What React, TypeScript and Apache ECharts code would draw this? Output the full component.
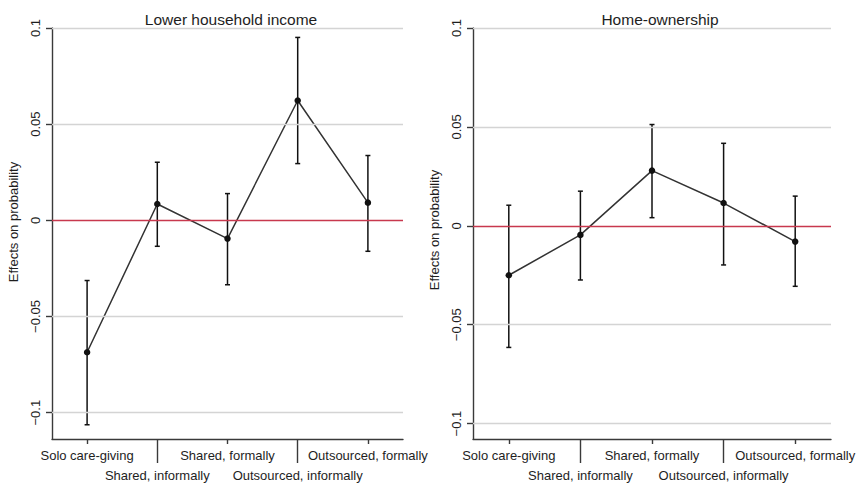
import React, { useEffect, useRef } from "react";
import * as echarts from "echarts";

// Care arrangements on the horizontal axis
const categories = [
  "Solo care-giving",
  "Shared, informally",
  "Shared, formally",
  "Outsourced, informally",
  "Outsourced, formally",
];

// Panel 1: lower household income (point estimate and confidence bounds)
const incomeEffect = [-0.0686, 0.0085, -0.0095, 0.0623, 0.0092];
const incomeLower = [-0.1063, -0.0135, -0.0335, 0.0295, -0.0161];
const incomeUpper = [-0.0313, 0.0302, 0.0139, 0.0951, 0.0337];

// Panel 2: home-ownership
const homeEffect = [-0.025, -0.0046, 0.0279, 0.0115, -0.008];
const homeLower = [-0.0615, -0.0274, 0.0041, -0.0198, -0.0306];
const homeUpper = [0.0104, 0.0175, 0.0512, 0.0417, 0.015];

// Y axis ticks and extents
const yTicks = [-0.1, -0.05, 0, 0.05, 0.1];
const incomeYRange = [-0.1137, 0.1];
const homeYRange = [-0.1078, 0.1];

const panelTitles = ["Lower household income", "Home-ownership"];
const yAxisTitle = "Effects on probability";

const FONT = "Liberation Sans, Arial, Helvetica, sans-serif";
const TEXT = "#1e1e1e";
const AXIS = "#3a3a3a";
const GRIDLINE = "#d4d4d4";
const ZERO = "#c8384e";

const fmtTick = (v: number) => {
  if (v === 0) return "0";
  const s = String(Math.abs(v));
  return v < 0 ? "\u2212" + s : s;
};

function buildPanel(
  idx: number,
  effect: number[],
  lower: number[],
  upper: number[],
  yRange: number[]
) {
  const xMain = idx * 2;
  const xAxes = [
    {
      type: "category",
      gridIndex: idx,
      position: "bottom",
      data: categories,
      boundaryGap: true,
      axisLine: { show: true, onZero: false, lineStyle: { color: AXIS, width: 1.4 } },
      axisTick: {
        show: true,
        alignWithLabel: true,
        length: 5,
        interval: (i: number) => i % 2 === 0,
        lineStyle: { color: AXIS, width: 1.4 },
      },
      axisLabel: {
        interval: (i: number) => i % 2 === 0,
        margin: 10,
        fontSize: 13,
        fontFamily: FONT,
        color: TEXT,
      },
      splitLine: { show: false },
    },
    {
      type: "category",
      gridIndex: idx,
      position: "bottom",
      offset: 0,
      data: categories,
      boundaryGap: true,
      axisLine: { show: false, onZero: false },
      axisTick: {
        show: true,
        alignWithLabel: true,
        length: 24,
        interval: (i: number) => i % 2 === 1,
        lineStyle: { color: AXIS, width: 1.4 },
      },
      axisLabel: {
        interval: (i: number) => i % 2 === 1,
        margin: 30,
        fontSize: 13,
        fontFamily: FONT,
        color: TEXT,
      },
      splitLine: { show: false },
    },
  ];
  const yAxis = {
    type: "value",
    gridIndex: idx,
    min: yRange[0],
    max: yRange[1],
    axisLine: { show: true, onZero: false, lineStyle: { color: AXIS, width: 1.4 } },
    axisTick: {
      show: true,
      length: 6,
      customValues: yTicks,
      lineStyle: { color: AXIS, width: 1.4 },
    },
    axisLabel: {
      customValues: yTicks,
      rotate: 90,
      margin: 10,
      fontSize: 13,
      fontFamily: FONT,
      color: TEXT,
      formatter: (v: number) => fmtTick(v),
    },
    splitLine: { show: false },
  };
  const bars = categories.map((_, i) => [i, lower[i], upper[i]]);
  const series = [
    {
      // holder for horizontal reference lines, drawn beneath the data
      type: "line",
      xAxisIndex: xMain,
      yAxisIndex: idx,
      data: effect,
      showSymbol: false,
      lineStyle: { opacity: 0 },
      silent: true,
      z: 1,
      markLine: {
        silent: true,
        symbol: ["none", "none"],
        label: { show: false },
        data: yTicks.map((v) => ({
          yAxis: v,
          lineStyle: {
            color: v === 0 ? ZERO : GRIDLINE,
            width: v === 0 ? 1.4 : 1.3,
            type: "solid",
          },
        })),
      },
    },
    {
      type: "custom",
      xAxisIndex: xMain,
      yAxisIndex: idx,
      data: bars,
      encode: { x: 0, y: [1, 2] },
      z: 3,
      renderItem: (_p: any, api: any) => {
        const x = api.value(0);
        const lo = api.coord([x, api.value(1)]);
        const hi = api.coord([x, api.value(2)]);
        const w = 2.5;
        const style = { stroke: "#111", lineWidth: 1.5 };
        return {
          type: "group",
          children: [
            { type: "line", shape: { x1: lo[0], y1: lo[1], x2: hi[0], y2: hi[1] }, style },
            { type: "line", shape: { x1: lo[0] - w, y1: lo[1], x2: lo[0] + w, y2: lo[1] }, style },
            { type: "line", shape: { x1: hi[0] - w, y1: hi[1], x2: hi[0] + w, y2: hi[1] }, style },
          ],
        };
      },
    },
    {
      type: "line",
      xAxisIndex: xMain,
      yAxisIndex: idx,
      data: effect,
      symbol: "circle",
      symbolSize: 6.5,
      itemStyle: { color: "#111" },
      lineStyle: { color: "#333", width: 1.5 },
      z: 4,
    },
  ];
  return { xAxes, yAxis, series };
}

export default function App() {
  const ref = useRef<HTMLDivElement>(null);
  useEffect(() => {
    if (!ref.current) return;
    const chart = echarts.init(ref.current, undefined, { renderer: "svg" });
    const p1 = buildPanel(0, incomeEffect, incomeLower, incomeUpper, incomeYRange);
    const p2 = buildPanel(1, homeEffect, homeLower, homeUpper, homeYRange);
    chart.setOption({
      animation: false,
      backgroundColor: "#ffffff",
      textStyle: { fontFamily: FONT },
      title: [
        {
          text: panelTitles[0],
          left: 226,
          top: 6,
          textAlign: "center",
          textStyle: { fontSize: 15.5, fontWeight: "normal", color: TEXT, fontFamily: FONT },
        },
        {
          text: panelTitles[1],
          left: 655,
          top: 6,
          textAlign: "center",
          textStyle: { fontSize: 15.5, fontWeight: "normal", color: TEXT, fontFamily: FONT },
        },
      ],
      grid: [
        { left: 52, top: 28, width: 351, height: 411 },
        { left: 473, top: 28, width: 358, height: 411 },
      ],
      xAxis: [...p1.xAxes, ...p2.xAxes],
      yAxis: [p1.yAxis, p2.yAxis],
      series: [...p1.series, ...p2.series],
      graphic: [
        {
          type: "text",
          x: 13,
          y: 222,
          rotation: Math.PI / 2,
          style: {
            text: yAxisTitle,
            align: "center",
            verticalAlign: "middle",
            fontSize: 13,
            fontFamily: FONT,
            fill: TEXT,
          },
        },
        {
          type: "text",
          x: 434,
          y: 230,
          rotation: Math.PI / 2,
          style: {
            text: yAxisTitle,
            align: "center",
            verticalAlign: "middle",
            fontSize: 13,
            fontFamily: FONT,
            fill: TEXT,
          },
        },
      ],
    });
    return () => chart.dispose();
  }, []);
  return (
    <div
      ref={ref}
      style={{ position: "fixed", left: 0, top: 0, width: 860, height: 484 }}
    />
  );
}
